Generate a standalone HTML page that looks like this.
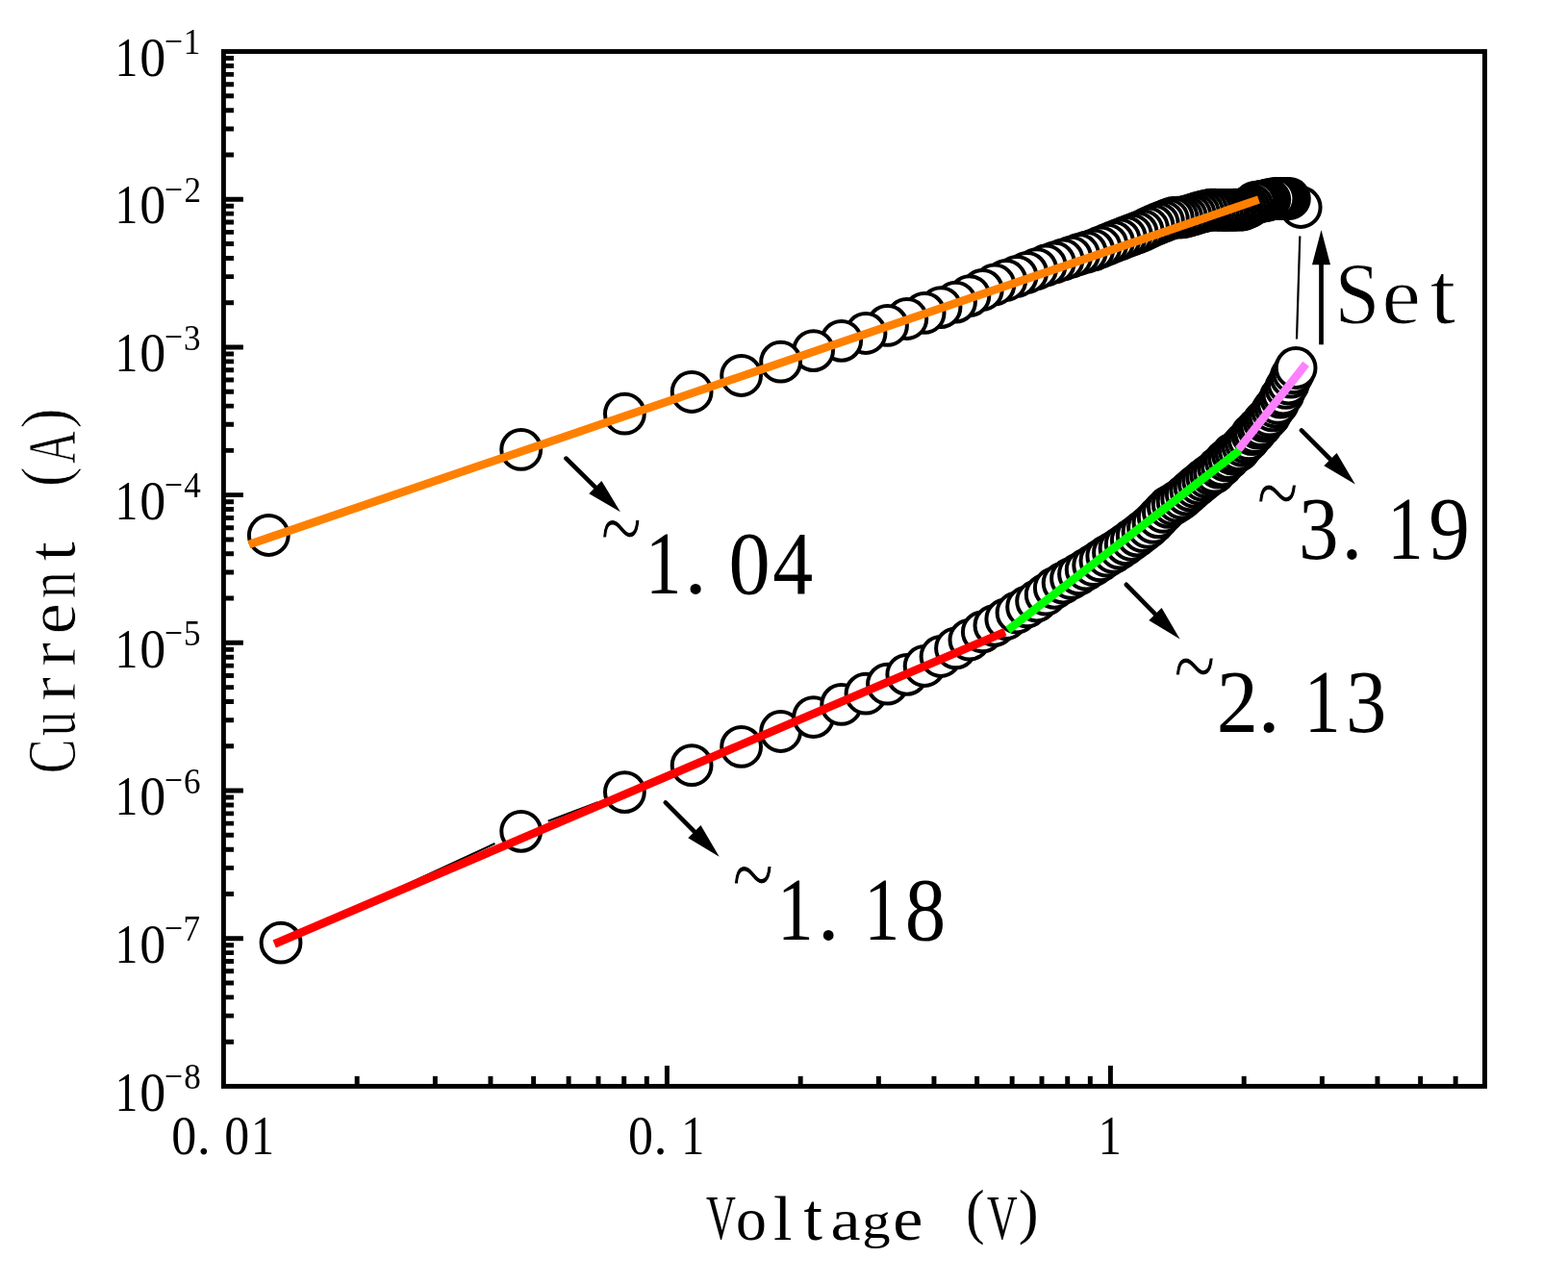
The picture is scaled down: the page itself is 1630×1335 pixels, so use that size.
<!DOCTYPE html>
<html><head><meta charset="utf-8"><title>I-V curve</title>
<style>html,body{margin:0;padding:0;background:#fff;}svg{display:block;}</style>
</head><body>
<svg width="1630" height="1335" viewBox="0 0 1630 1335">
<rect x="0" y="0" width="1630" height="1335" fill="#fff"/><path d="M319.3 967.6L514.5 877.0M569.7 853.7L621.3 834.2M677.3 812.4L691.2 806.8M1348.0 352.5L1351.3 245.5M690.5 416.8L677.9 420.9M621.0 440.0L570.0 457.6M513.3 477.0L307.7 546.8" stroke="#000" stroke-width="2.2" fill="none"/><g fill="#fff" stroke="#000" stroke-width="4.0"><circle cx="292.0" cy="980.2" r="20.4"/><circle cx="541.7" cy="864.3" r="20.4"/><circle cx="649.4" cy="823.6" r="20.4"/><circle cx="719.1" cy="795.7" r="20.4"/><circle cx="770.6" cy="776.4" r="20.4"/><circle cx="811.6" cy="760.5" r="20.4"/><circle cx="845.6" cy="745.6" r="20.4"/><circle cx="874.7" cy="732.4" r="20.4"/><circle cx="900.0" cy="721.2" r="20.4"/><circle cx="922.5" cy="711.2" r="20.4"/><circle cx="942.8" cy="701.3" r="20.4"/><circle cx="961.1" cy="692.5" r="20.4"/><circle cx="978.0" cy="682.5" r="20.4"/><circle cx="993.5" cy="673.9" r="20.4"/><circle cx="1007.9" cy="665.2" r="20.4"/><circle cx="1021.3" cy="656.9" r="20.4"/><circle cx="1033.9" cy="650.3" r="20.4"/><circle cx="1045.8" cy="643.7" r="20.4"/><circle cx="1057.0" cy="637.0" r="20.4"/><circle cx="1067.6" cy="630.9" r="20.4"/><circle cx="1077.6" cy="625.0" r="20.4"/><circle cx="1087.2" cy="618.2" r="20.4"/><circle cx="1096.3" cy="611.3" r="20.4"/><circle cx="1105.1" cy="606.1" r="20.4"/><circle cx="1113.5" cy="601.4" r="20.4"/><circle cx="1121.5" cy="596.8" r="20.4"/><circle cx="1129.2" cy="592.2" r="20.4"/><circle cx="1136.7" cy="587.7" r="20.4"/><circle cx="1143.9" cy="582.9" r="20.4"/><circle cx="1150.8" cy="578.2" r="20.4"/><circle cx="1157.5" cy="574.4" r="20.4"/><circle cx="1164.0" cy="570.2" r="20.4"/><circle cx="1170.2" cy="565.8" r="20.4"/><circle cx="1176.3" cy="561.5" r="20.4"/><circle cx="1182.2" cy="557.1" r="20.4"/><circle cx="1188.0" cy="552.7" r="20.4"/><circle cx="1193.5" cy="548.4" r="20.4"/><circle cx="1199.0" cy="543.4" r="20.4"/><circle cx="1204.2" cy="537.8" r="20.4"/><circle cx="1209.4" cy="532.4" r="20.4"/><circle cx="1214.4" cy="527.3" r="20.4"/><circle cx="1219.3" cy="524.4" r="20.4"/><circle cx="1224.1" cy="521.5" r="20.4"/><circle cx="1228.7" cy="518.2" r="20.4"/><circle cx="1233.3" cy="514.1" r="20.4"/><circle cx="1237.8" cy="510.1" r="20.4"/><circle cx="1242.1" cy="506.5" r="20.4"/><circle cx="1246.4" cy="503.0" r="20.4"/><circle cx="1250.6" cy="499.5" r="20.4"/><circle cx="1254.7" cy="496.2" r="20.4"/><circle cx="1258.7" cy="493.2" r="20.4"/><circle cx="1262.6" cy="491.2" r="20.4"/><circle cx="1266.5" cy="486.1" r="20.4"/><circle cx="1270.3" cy="484.0" r="20.4"/><circle cx="1274.0" cy="478.9" r="20.4"/><circle cx="1277.6" cy="476.6" r="20.4"/><circle cx="1281.2" cy="472.1" r="20.4"/><circle cx="1284.7" cy="470.2" r="20.4"/><circle cx="1288.2" cy="467.8" r="20.4"/><circle cx="1291.6" cy="463.3" r="20.4"/><circle cx="1294.9" cy="459.9" r="20.4"/><circle cx="1298.2" cy="456.9" r="20.4"/><circle cx="1301.4" cy="451.6" r="20.4"/><circle cx="1304.6" cy="449.7" r="20.4"/><circle cx="1307.8" cy="445.1" r="20.4"/><circle cx="1310.8" cy="442.7" r="20.4"/><circle cx="1313.9" cy="438.0" r="20.4"/><circle cx="1316.9" cy="435.3" r="20.4"/><circle cx="1319.8" cy="432.2" r="20.4"/><circle cx="1322.7" cy="426.9" r="20.4"/><circle cx="1325.6" cy="423.0" r="20.4"/><circle cx="1328.4" cy="419.4" r="20.4"/><circle cx="1331.2" cy="413.2" r="20.4"/><circle cx="1333.9" cy="410.1" r="20.4"/><circle cx="1336.7" cy="403.4" r="20.4"/><circle cx="1339.3" cy="399.0" r="20.4"/><circle cx="1342.0" cy="392.2" r="20.4"/><circle cx="1344.6" cy="387.7" r="20.4"/><circle cx="1347.1" cy="382.5" r="20.4"/><circle cx="1352.2" cy="215.5" r="20.4"/><circle cx="1340.4" cy="206.5" r="20.4"/><circle cx="1337.0" cy="206.5" r="20.4"/><circle cx="1334.0" cy="206.5" r="20.4"/><circle cx="1331.0" cy="206.5" r="20.4"/><circle cx="1328.0" cy="206.5" r="20.4"/><circle cx="1325.0" cy="206.5" r="20.4"/><circle cx="1319.8" cy="207.5" r="20.4"/><circle cx="1316.9" cy="208.1" r="20.4"/><circle cx="1313.9" cy="208.8" r="20.4"/><circle cx="1310.8" cy="209.3" r="20.4"/><circle cx="1307.8" cy="209.8" r="20.4"/><circle cx="1304.6" cy="210.3" r="20.4"/><circle cx="1301.4" cy="213.2" r="20.4"/><circle cx="1298.2" cy="215.2" r="20.4"/><circle cx="1294.9" cy="216.6" r="20.4"/><circle cx="1291.6" cy="218.0" r="20.4"/><circle cx="1288.2" cy="218.1" r="20.4"/><circle cx="1284.7" cy="218.2" r="20.4"/><circle cx="1281.2" cy="218.3" r="20.4"/><circle cx="1277.6" cy="218.4" r="20.4"/><circle cx="1274.0" cy="218.4" r="20.4"/><circle cx="1270.3" cy="218.3" r="20.4"/><circle cx="1266.5" cy="218.3" r="20.4"/><circle cx="1262.6" cy="218.2" r="20.4"/><circle cx="1258.7" cy="218.1" r="20.4"/><circle cx="1254.7" cy="218.8" r="20.4"/><circle cx="1250.6" cy="219.9" r="20.4"/><circle cx="1246.4" cy="221.0" r="20.4"/><circle cx="1242.1" cy="222.3" r="20.4"/><circle cx="1237.8" cy="223.6" r="20.4"/><circle cx="1233.3" cy="225.0" r="20.4"/><circle cx="1228.7" cy="225.8" r="20.4"/><circle cx="1224.1" cy="226.1" r="20.4"/><circle cx="1219.3" cy="226.4" r="20.4"/><circle cx="1214.4" cy="228.1" r="20.4"/><circle cx="1209.4" cy="230.1" r="20.4"/><circle cx="1204.2" cy="232.1" r="20.4"/><circle cx="1199.0" cy="234.4" r="20.4"/><circle cx="1193.5" cy="237.0" r="20.4"/><circle cx="1188.0" cy="239.6" r="20.4"/><circle cx="1182.2" cy="241.9" r="20.4"/><circle cx="1176.3" cy="244.1" r="20.4"/><circle cx="1170.2" cy="246.3" r="20.4"/><circle cx="1164.0" cy="248.8" r="20.4"/><circle cx="1157.5" cy="251.4" r="20.4"/><circle cx="1150.8" cy="254.1" r="20.4"/><circle cx="1143.9" cy="257.0" r="20.4"/><circle cx="1136.7" cy="259.9" r="20.4"/><circle cx="1129.2" cy="262.2" r="20.4"/><circle cx="1121.5" cy="264.5" r="20.4"/><circle cx="1113.5" cy="267.2" r="20.4"/><circle cx="1105.1" cy="270.0" r="20.4"/><circle cx="1096.3" cy="272.9" r="20.4"/><circle cx="1087.2" cy="276.0" r="20.4"/><circle cx="1077.6" cy="279.6" r="20.4"/><circle cx="1067.6" cy="283.4" r="20.4"/><circle cx="1057.0" cy="287.3" r="20.4"/><circle cx="1045.8" cy="291.5" r="20.4"/><circle cx="1033.9" cy="296.0" r="20.4"/><circle cx="1021.3" cy="301.4" r="20.4"/><circle cx="1007.9" cy="307.6" r="20.4"/><circle cx="993.5" cy="314.1" r="20.4"/><circle cx="978.0" cy="319.6" r="20.4"/><circle cx="961.1" cy="325.4" r="20.4"/><circle cx="942.8" cy="331.5" r="20.4"/><circle cx="922.5" cy="338.4" r="20.4"/><circle cx="900.0" cy="346.5" r="20.4"/><circle cx="874.7" cy="354.3" r="20.4"/><circle cx="845.6" cy="364.6" r="20.4"/><circle cx="811.6" cy="376.2" r="20.4"/><circle cx="770.6" cy="390.5" r="20.4"/><circle cx="719.1" cy="407.5" r="20.4"/><circle cx="649.4" cy="430.2" r="20.4"/><circle cx="541.7" cy="467.4" r="20.4"/><circle cx="279.3" cy="556.5" r="20.4"/></g><line x1="258.8" y1="566.1" x2="1308.5" y2="207.5" stroke="#ff8000" stroke-width="8.6"/><line x1="285.2" y1="981.5" x2="1044.8" y2="657.0" stroke="#ff0000" stroke-width="8.6"/><line x1="1047.8" y1="655.1" x2="1288.8" y2="468.1" stroke="#00ff00" stroke-width="8.6"/><line x1="1287.4" y1="467.4" x2="1357.6" y2="378.4" stroke="#ff80ff" stroke-width="8.6"/><line x1="588.5" y1="476.7" x2="620.2" y2="507.9" stroke="#000" stroke-width="4.7" stroke-linecap="round"/><polygon points="644.9,532.2 612.3,513.2 625.4,499.9" fill="#000"/><line x1="691.8" y1="834.4" x2="723.3" y2="866.1" stroke="#000" stroke-width="4.7" stroke-linecap="round"/><polygon points="747.7,890.7 715.3,871.3 728.5,858.1" fill="#000"/><line x1="1170.8" y1="607.8" x2="1202.3" y2="639.8" stroke="#000" stroke-width="4.7" stroke-linecap="round"/><polygon points="1226.6,664.5 1194.3,645.0 1207.6,631.9" fill="#000"/><line x1="1352.9" y1="447.4" x2="1384.4" y2="479.0" stroke="#000" stroke-width="4.7" stroke-linecap="round"/><polygon points="1408.8,503.5 1376.3,484.2 1389.6,471.0" fill="#000"/><line x1="1373.5" y1="358.3" x2="1373.5" y2="273.3" stroke="#000" stroke-width="4.7" stroke-linecap="butt"/><polygon points="1373.5,238.9 1383.0,275.3 1364.0,275.3" fill="#000"/><path d="M232.40 160.99H242.98M232.40 133.92H242.98M232.40 114.72H242.98M232.40 99.83H242.98M232.40 87.66H242.98M232.40 77.37H242.98M232.40 68.45H242.98M232.40 60.59H242.98M232.40 207.26H252.87M232.40 314.68H242.98M232.40 287.62H242.98M232.40 268.42H242.98M232.40 253.52H242.98M232.40 241.35H242.98M232.40 231.06H242.98M232.40 222.15H242.98M232.40 214.29H242.98M232.40 360.95H252.87M232.40 468.38H242.98M232.40 441.32H242.98M232.40 422.11H242.98M232.40 407.22H242.98M232.40 395.05H242.98M232.40 384.76H242.98M232.40 375.85H242.98M232.40 367.98H242.98M232.40 514.65H252.87M232.40 622.08H242.98M232.40 595.01H242.98M232.40 575.81H242.98M232.40 560.92H242.98M232.40 548.75H242.98M232.40 538.46H242.98M232.40 529.54H242.98M232.40 521.68H242.98M232.40 668.34H252.87M232.40 775.77H242.98M232.40 748.71H242.98M232.40 729.51H242.98M232.40 714.61H242.98M232.40 702.44H242.98M232.40 692.15H242.98M232.40 683.24H242.98M232.40 675.38H242.98M232.40 822.04H252.87M232.40 929.47H242.98M232.40 902.40H242.98M232.40 883.20H242.98M232.40 868.31H242.98M232.40 856.14H242.98M232.40 845.85H242.98M232.40 836.93H242.98M232.40 829.07H242.98M232.40 975.74H252.87M232.40 1083.16H242.98M232.40 1056.10H242.98M232.40 1036.90H242.98M232.40 1022.00H242.98M232.40 1009.83H242.98M232.40 999.54H242.98M232.40 990.63H242.98M232.40 982.77H242.98M371.17 1129.43V1118.97M452.35 1129.43V1118.97M509.95 1129.43V1118.97M554.63 1129.43V1118.97M591.13 1129.43V1118.97M621.99 1129.43V1118.97M648.72 1129.43V1118.97M672.31 1129.43V1118.97M693.40 1129.43V1108.03M832.17 1129.43V1118.97M913.35 1129.43V1118.97M970.95 1129.43V1118.97M1015.63 1129.43V1118.97M1052.13 1129.43V1118.97M1082.99 1129.43V1118.97M1109.72 1129.43V1118.97M1133.31 1129.43V1118.97M1154.40 1129.43V1108.03M1293.17 1129.43V1118.97M1374.35 1129.43V1118.97M1431.95 1129.43V1118.97M1476.63 1129.43V1118.97M1513.13 1129.43V1118.97" stroke="#000" stroke-width="4.94" fill="none"/><rect x="232.4" y="53.56" width="1311.04" height="1075.87" fill="none" stroke="#000" stroke-width="4.94"/><g font-family="'Liberation Serif', 'Noto Serif CJK SC', serif" fill="#000"><text transform="translate(119.41 78.76) scale(0.8446 1.0000)" font-size="56.5">1</text><text transform="translate(145.34 78.76) scale(0.9563 1.0000)" font-size="56.5">0</text><text transform="translate(171.12 55.91) scale(0.8651 1.0000)" font-size="39">−</text><text transform="translate(190.74 56.26) scale(0.9000 1.0000)" font-size="39">1</text><text transform="translate(119.41 232.46) scale(0.8446 1.0000)" font-size="56.5">1</text><text transform="translate(145.34 232.46) scale(0.9563 1.0000)" font-size="56.5">0</text><text transform="translate(171.12 209.60) scale(0.8651 1.0000)" font-size="39">−</text><text transform="translate(191.42 209.96) scale(0.9000 1.0000)" font-size="39">2</text><text transform="translate(119.41 386.15) scale(0.8446 1.0000)" font-size="56.5">1</text><text transform="translate(145.34 386.15) scale(0.9563 1.0000)" font-size="56.5">0</text><text transform="translate(171.12 363.30) scale(0.8651 1.0000)" font-size="39">−</text><text transform="translate(191.07 363.65) scale(0.9000 1.0000)" font-size="39">3</text><text transform="translate(119.41 539.85) scale(0.8446 1.0000)" font-size="56.5">1</text><text transform="translate(145.34 539.85) scale(0.9563 1.0000)" font-size="56.5">0</text><text transform="translate(171.12 517.00) scale(0.8651 1.0000)" font-size="39">−</text><text transform="translate(191.16 517.35) scale(0.9000 1.0000)" font-size="39">4</text><text transform="translate(119.41 693.54) scale(0.8446 1.0000)" font-size="56.5">1</text><text transform="translate(145.34 693.54) scale(0.9563 1.0000)" font-size="56.5">0</text><text transform="translate(171.12 670.69) scale(0.8651 1.0000)" font-size="39">−</text><text transform="translate(190.89 671.04) scale(0.9000 1.0000)" font-size="39">5</text><text transform="translate(119.41 847.24) scale(0.8446 1.0000)" font-size="56.5">1</text><text transform="translate(145.34 847.24) scale(0.9563 1.0000)" font-size="56.5">0</text><text transform="translate(171.12 824.39) scale(0.8651 1.0000)" font-size="39">−</text><text transform="translate(190.99 824.74) scale(0.9000 1.0000)" font-size="39">6</text><text transform="translate(119.41 1000.94) scale(0.8446 1.0000)" font-size="56.5">1</text><text transform="translate(145.34 1000.94) scale(0.9563 1.0000)" font-size="56.5">0</text><text transform="translate(171.12 978.08) scale(0.8651 1.0000)" font-size="39">−</text><text transform="translate(190.57 978.44) scale(0.9000 1.0000)" font-size="39">7</text><text transform="translate(119.41 1154.63) scale(0.8446 1.0000)" font-size="56.5">1</text><text transform="translate(145.34 1154.63) scale(0.9563 1.0000)" font-size="56.5">0</text><text transform="translate(171.12 1131.78) scale(0.8651 1.0000)" font-size="39">−</text><text transform="translate(191.22 1132.13) scale(0.9000 1.0000)" font-size="39">8</text><text transform="translate(178.16 1199.70) scale(0.9200 1.0000)" font-size="56.5">0</text><text transform="translate(204.64 1199.70) scale(1.0000 1.0000)" font-size="56.5">.</text><text transform="translate(233.16 1199.70) scale(0.9200 1.0000)" font-size="56.5">0</text><text transform="translate(260.98 1199.70) scale(0.8500 1.0000)" font-size="56.5">1</text><text transform="translate(652.90 1199.70) scale(0.9200 1.0000)" font-size="56.5">0</text><text transform="translate(679.39 1199.70) scale(1.0000 1.0000)" font-size="56.5">.</text><text transform="translate(708.23 1199.70) scale(0.8500 1.0000)" font-size="56.5">1</text><text transform="translate(1141.73 1199.70) scale(0.8500 1.0000)" font-size="56.5">1</text><text transform="translate(733.92 1287.99) scale(0.6475 1.0064)" font-size="66">V</text><text transform="translate(765.07 1288.89) scale(0.9652 0.9514)" font-size="66">o</text><text transform="translate(804.03 1288.70) scale(1.0600 0.9914)" font-size="66">l</text><text transform="translate(835.49 1288.82) scale(1.0600 1.0608)" font-size="66">t</text><text transform="translate(863.47 1288.91) scale(1.0600 0.9173)" font-size="66">a</text><text transform="translate(896.28 1286.89) scale(0.8891 0.8147)" font-size="66">g</text><text transform="translate(928.27 1288.89) scale(1.0600 0.9514)" font-size="66">e</text><text transform="translate(1025.91 1287.99) scale(0.6626 1.0064)" font-size="66">V</text><text transform="translate(1004.17 1281.28) scale(0.8731 0.9625)" font-size="66">(</text><text transform="translate(1058.69 1281.28) scale(0.9439 0.9625)" font-size="66">)</text><g transform="translate(77.7 0) rotate(-90)" stroke="#fff" stroke-width="0.8"><text transform="translate(-804.21 0.00) scale(0.7533 1.0000)" font-size="71.4">C</text><text transform="translate(-765.27 0.00) scale(0.7156 1.0000)" font-size="71.4">u</text><text transform="translate(-728.93 0.00) scale(1.0600 1.0000)" font-size="71.4">r</text><text transform="translate(-692.98 0.00) scale(1.0600 1.0000)" font-size="71.4">r</text><text transform="translate(-659.55 0.00) scale(1.0217 1.0000)" font-size="71.4">e</text><text transform="translate(-622.29 0.00) scale(0.7883 1.0000)" font-size="71.4">n</text><text transform="translate(-583.71 0.00) scale(1.0600 1.0000)" font-size="71.4">t</text><text transform="translate(-482.06 0.00) scale(0.6535 1.0000)" font-size="71.4">A</text><text transform="translate(-506.10 -7.29) scale(0.8616 0.9731)" font-size="71.4">(</text><text transform="translate(-445.46 -7.29) scale(0.8943 0.9731)" font-size="71.4">)</text></g><text stroke="#fff" stroke-width="0.95" transform="translate(624.56 585.75) scale(0.8390 1.1717)" font-size="94">~</text><text transform="translate(671.01 617.20) scale(0.7978 1.0000)" font-size="94">1</text><text transform="translate(711.15 617.20) scale(1.0083 1.0000)" font-size="94">.</text><text transform="translate(757.41 617.20) scale(0.9187 1.0000)" font-size="94">0</text><text transform="translate(803.36 617.20) scale(0.8925 1.0000)" font-size="94">4</text><text stroke="#fff" stroke-width="0.95" transform="translate(761.33 945.79) scale(0.8478 1.1780)" font-size="94">~</text><text transform="translate(807.88 977.00) scale(0.8008 1.0000)" font-size="94">1</text><text transform="translate(849.68 977.00) scale(0.9723 1.0000)" font-size="94">.</text><text transform="translate(898.28 977.00) scale(0.7887 1.0000)" font-size="94">1</text><text transform="translate(940.76 977.00) scale(0.9036 1.0000)" font-size="94">8</text><text stroke="#fff" stroke-width="0.95" transform="translate(1220.32 728.62) scale(0.8522 1.1400)" font-size="94">~</text><text transform="translate(1264.81 760.80) scale(0.9182 1.0000)" font-size="94">2</text><text transform="translate(1307.56 760.80) scale(0.9903 1.0000)" font-size="94">.</text><text transform="translate(1355.83 760.80) scale(0.8068 1.0000)" font-size="94">1</text><text transform="translate(1398.95 760.80) scale(0.9014 1.0000)" font-size="94">3</text><text stroke="#fff" stroke-width="0.95" transform="translate(1306.53 548.76) scale(0.8500 1.1464)" font-size="94">~</text><text transform="translate(1349.93 581.20) scale(0.8833 1.0000)" font-size="94">3</text><text transform="translate(1394.55 581.20) scale(0.9273 1.0000)" font-size="94">.</text><text transform="translate(1442.13 581.20) scale(0.7947 1.0000)" font-size="94">1</text><text transform="translate(1485.15 581.20) scale(0.9074 1.0000)" font-size="94">9</text><g stroke="#fff" stroke-width="1.0"><text transform="translate(1387.56 336.10) scale(0.9259 1.0000)" font-size="91">S</text><text transform="translate(1436.44 335.88) scale(1.0006 0.9231)" font-size="91">e</text><text transform="translate(1486.51 336.10) scale(1.0600 1.0000)" font-size="91">t</text></g></g>
</svg>
</body></html>
